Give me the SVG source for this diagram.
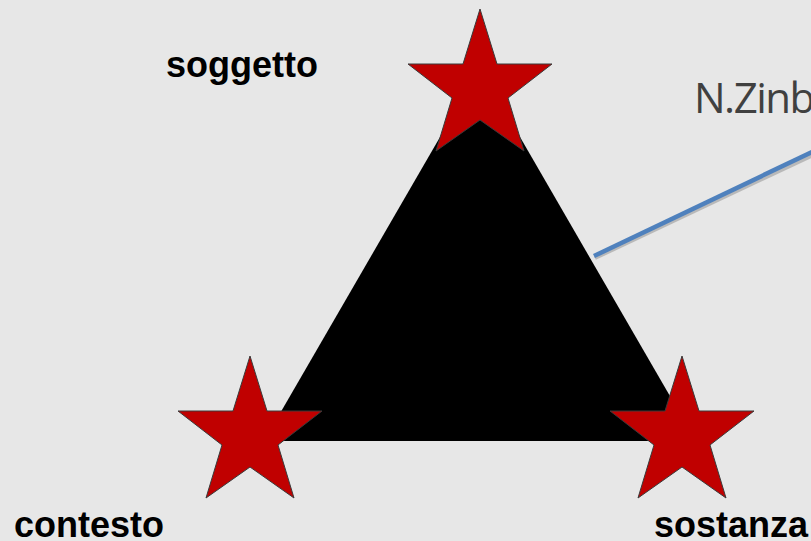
<svg xmlns="http://www.w3.org/2000/svg" width="811" height="541" viewBox="0 0 811 541">
<style>
.star{fill:#C00000;stroke:#3a3a3a;stroke-width:1;stroke-linejoin:miter}
.lbl{font-family:"Liberation Sans",Arial,sans-serif;font-weight:bold;font-size:36px;fill:#000}
.note{font-family:"Open Sans","Noto Sans",sans-serif;font-size:42px;fill:#404040;letter-spacing:-1.5px}
</style>
<defs>
<path id="star5" d="M0,0 L17,55 L72,55 L28,89 L44,142 L0,111 L-44,142 L-28,89 L-72,55 L-17,55 Z"/>
</defs>
<rect width="811" height="541" fill="#E7E7E7"/>
<g id="triangle">
<polygon points="480,68 696,441 264,441" fill="#000"/>
</g>
<g id="connectors">
<line x1="595" y1="258" x2="813" y2="155" stroke="#8c8c8c" stroke-opacity="0.5" stroke-width="4"/>
<line x1="594" y1="256" x2="812" y2="152" stroke="#4F81BD" stroke-width="4.5"/>
</g>
<g id="star-soggetto"><use href="#star5" class="star" transform="translate(480,9)"/></g>
<g id="star-contesto"><use href="#star5" class="star" transform="translate(250,356)"/></g>
<g id="star-sostanza"><use href="#star5" class="star" transform="translate(682,356)"/></g>
<g id="label-soggetto"><text class="lbl" x="166" y="77">soggetto</text></g>
<g id="label-contesto"><text class="lbl" x="14" y="537">contesto</text></g>
<g id="label-sostanza"><text class="lbl" x="654" y="537">sostanza</text></g>
<g id="label-note"><text class="note" x="694" y="113">N.Zinb</text></g>
</svg>
